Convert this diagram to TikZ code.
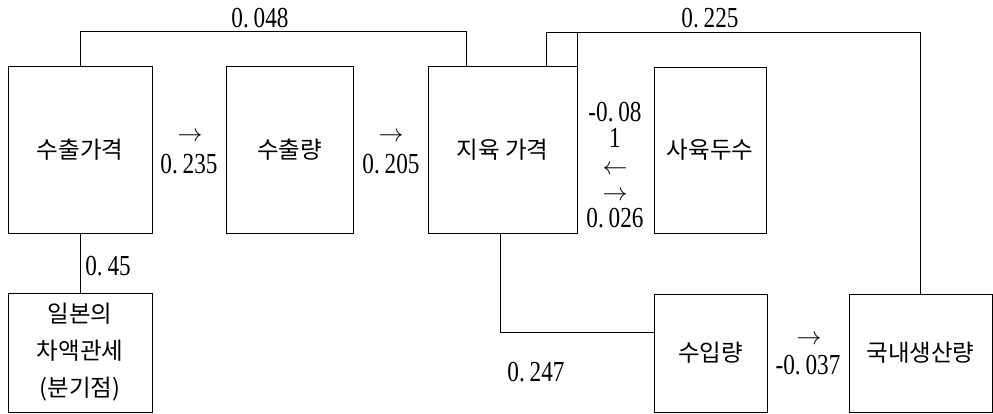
\documentclass[tikz,border=0pt]{standalone}
\usepackage{fontspec}
\setmainfont{Liberation Serif}[FakeStretch=0.8]
\newfontfamily\kr{Noto Sans CJK KR}
\begin{document}
\begin{tikzpicture}[x=1pt,y=-1pt,
  box/.style={draw,line width=0.9pt,inner sep=0pt,font=\kr\fontsize{23.5}{37}\selectfont,align=center},
  num/.style={inner sep=0pt,font=\fontsize{29}{30}\selectfont},
  arr/.style={inner sep=0pt,font=\fontsize{24}{24}\selectfont,text height=6pt,text depth=0pt},
  conn/.style={line width=0.9pt}]
\useasboundingbox (0,0) rectangle (993,414);
% boxes
\node[box,minimum width=144pt,minimum height=167pt] (b1) at (80,149.5) {수출가격};
\node[box,minimum width=127pt,minimum height=167pt] (b2) at (289.5,149.5) {수출량};
\node[box,minimum width=149pt,minimum height=167pt] (b3) at (502.5,149.5) {지육 가격};
\node[box,minimum width=112pt,minimum height=166pt] (b4) at (710,150) {사육두수};
\node[box,minimum width=144pt,minimum height=119pt] (b5) at (80,352.5) {일본의\\차액관세\\(분기점)};
\node[box,minimum width=113pt,minimum height=118pt] (b6) at (710.5,353) {수입량};
\node[box,minimum width=143pt,minimum height=118pt] (b7) at (920.5,353) {국내생산량};
% connectors
\draw[conn] (b1.north) -- ++(0,-34) -| ([xshift=-36.5pt]b3.north);
\draw[conn] ([xshift=43.5pt]b3.north) -- ++(0,-33) -| (b7.north);
\draw[conn] (b3.north east) -- ++(0,-33);
\draw[conn] (b1.south) -- (b5.north);
\draw[conn] ([xshift=-2.5pt]b3.south) |- ([yshift=21pt]b6.west);
% labels
\node[num] (l048) at (260,18) {0.\,048};
\node[num] (l225) at (710,18) {0.\,225};
\node[arr] (a235) at (190,139) {$\rightarrow$};
\node[num] (l235) at (189,164) {0.\,235};
\node[arr] (a205) at (391,139) {$\rightarrow$};
\node[num] (l205) at (391,164) {0.\,205};
\node[num] (l45) at (108,266) {0.\,45};
\node[num,align=center,font=\fontsize{29}{26.5}\selectfont] (l008) at (615,165)
  {-0.\,08\\1\\$\leftarrow$\\$\rightarrow$\\0.\,026};
\node[num] (l247) at (536,372) {0.\,247};
\node[arr] (a037) at (809,341) {$\rightarrow$};
\node[num] (l037) at (808,365) {-0.\,037};
\end{tikzpicture}
\end{document}
